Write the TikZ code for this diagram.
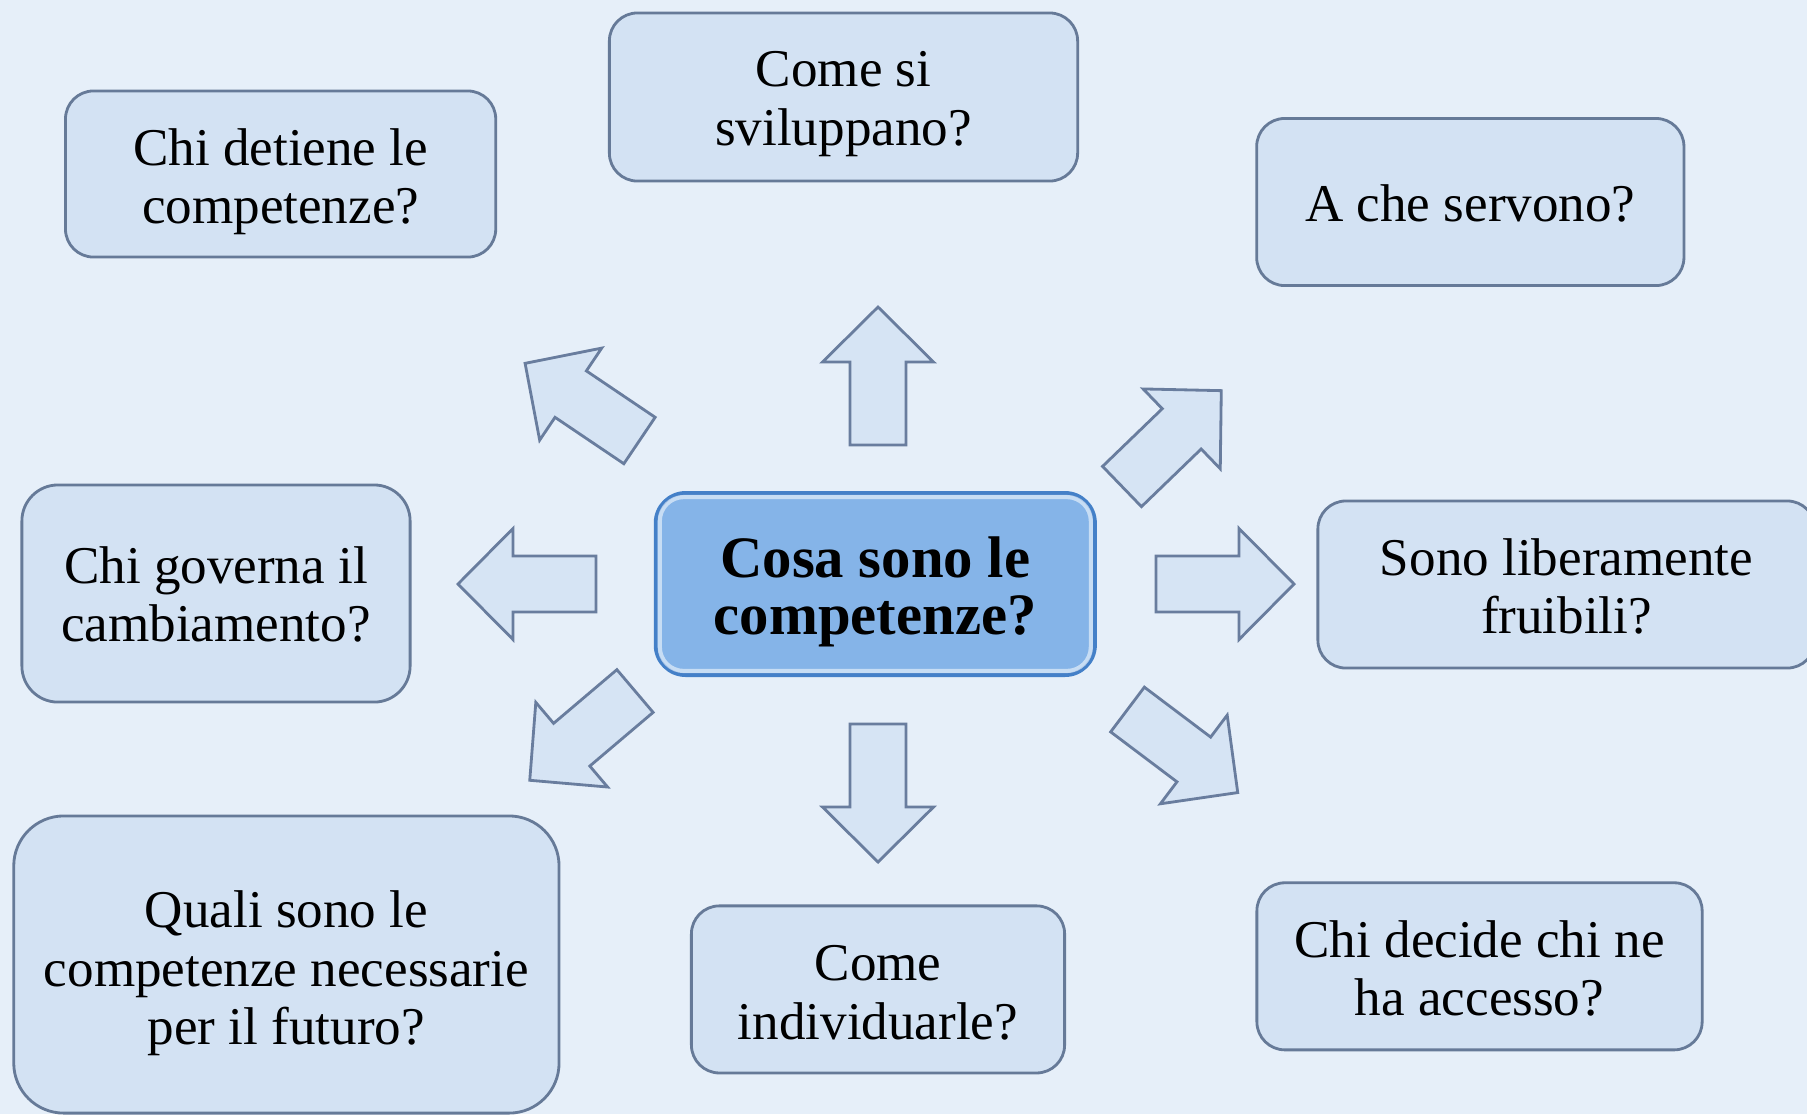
\documentclass[tikz,border=0pt]{standalone}
\usepackage{fontspec}
\setmainfont{Liberation Serif}
\definecolor{bgc}{RGB}{230,239,249}
\definecolor{boxfill}{RGB}{211,226,243}
\definecolor{boxline}{RGB}{102,122,152}
\definecolor{ctrfill}{RGB}{133,180,232}
\definecolor{ctrline}{RGB}{68,128,200}
\definecolor{arrfill}{RGB}{214,228,244}
\definecolor{arrline}{RGB}{105,125,158}
\tikzset{
  qbox/.style={draw=boxline, fill=boxfill, line width=0.8pt, inner sep=0pt},
  qtext/.style={align=center, inner sep=0pt,
    font=\fontsize{15.1}{16.6}\selectfont},
  ctrbox/.style={draw=ctrline, fill=ctrfill, line width=1.1pt, inner sep=0pt},
  ctrtext/.style={align=center, inner sep=0pt, yshift=-0.08cm,
    font=\fontsize{16.7}{16.3}\selectfont\bfseries},
  arrowsty/.style={draw=arrline, fill=arrfill, line width=0.8pt, line join=miter},
  blockarrow/.pic={\path[arrowsty] (0,-28) -- (83,-28) -- (83,-55.5) -- (138,0)
    -- (83,55.5) -- (83,28) -- (0,28) -- cycle;}
}
\begin{document}
\begin{tikzpicture}[x=0.01cm,y=-0.01cm]
\path[use as bounding box, clip] (0,0) rectangle (1807,1114);
\fill[bgc] (0,0) rectangle (1807,1114);

\node[qbox, minimum width=4.30cm, minimum height=1.66cm, rounded corners=0.28cm,
  label={[qtext, yshift=-0.08cm]center:Chi detiene le\\competenze?}] (q1) at (280.6,174) {};
\node[qbox, minimum width=4.68cm, minimum height=1.68cm, rounded corners=0.28cm,
  label={[qtext, yshift=-0.07cm]center:Come si\\sviluppano?}] (q2) at (843.5,97) {};
\node[qbox, minimum width=4.27cm, minimum height=1.67cm, rounded corners=0.28cm,
  label={[qtext, yshift=-0.01cm]center:A che servono?}] (q3) at (1470.3,202) {};
\node[qbox, minimum width=3.88cm, minimum height=2.17cm, rounded corners=0.36cm,
  label={[qtext, yshift=-0.01cm]center:Chi governa il\\cambiamento?}] (q4) at (216,593.5) {};
\node[qbox, minimum width=4.97cm, minimum height=1.67cm, rounded corners=0.28cm,
  label={[qtext, yshift=-0.02cm]center:Sono liberamente\\fruibili?}] (q6) at (1566.5,584.5) {};
\node[qbox, minimum width=5.45cm, minimum height=2.97cm, rounded corners=0.50cm,
  label={[qtext, yshift=-0.09cm]center:Quali sono le\\competenze necessarie\\per il futuro?}] (q7) at (286.4,964.5) {};
\node[qbox, minimum width=3.73cm, minimum height=1.67cm, rounded corners=0.28cm,
  label={[qtext, yshift=-0.035cm]center:Come\\individuarle?}] (q8) at (878,989.4) {};
\node[qbox, minimum width=4.45cm, minimum height=1.67cm, rounded corners=0.28cm,
  label={[qtext, yshift=-0.02cm]center:Chi decide chi ne\\ha accesso?}] (q9) at (1479.5,966.3) {};

\node[ctrbox, minimum width=4.39cm, minimum height=1.82cm, rounded corners=0.30cm] (c) at (875.3,584) {};
\draw[white, opacity=0.55, line width=1.2pt, rounded corners=0.24cm]
  ([xshift=0.06cm,yshift=-0.06cm]c.north west) rectangle ([xshift=-0.06cm,yshift=0.06cm]c.south east);
\node[ctrtext] (ct) at (c.center) {Cosa sono le\\competenze?};

\pic[rotate=90] at (878,445) {blockarrow};
\pic[rotate=-90] at (878,724) {blockarrow};
\pic[rotate=180] at (596,584) {blockarrow};
\pic[rotate=0] at (1156,584) {blockarrow};
\pic[rotate=146] at (639.5,440.5) {blockarrow};
\pic[rotate=44] at (1122,486.5) {blockarrow};
\pic[rotate=220.3] at (635,691) {blockarrow};
\pic[rotate=-37] at (1127.5,709.5) {blockarrow};
\end{tikzpicture}
\end{document}
